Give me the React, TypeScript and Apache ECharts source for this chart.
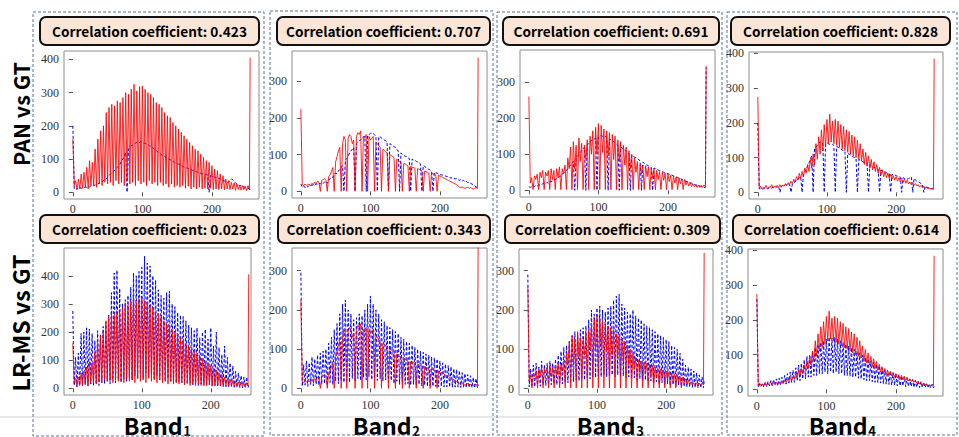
import React, { useEffect, useRef } from "react";
import * as echarts from "echarts";

// ---------- data ----------
const bandNames = ["1", "2", "3", "4"];
const corrPAN = [0.423, 0.707, 0.691, 0.828];
const corrLRMS = [0.023, 0.343, 0.309, 0.614];
const rowLabels = ["PAN vs GT", "LR-MS vs GT"];
const xTicks = [0, 100, 200];
const yTicksTop = [[0, 100, 200, 300, 400], [0, 100, 200, 300], [0, 100, 200, 300], [0, 100, 200, 300, 400]];
const yTicksBottom = [[0, 100, 200, 300, 400], [0, 100, 200, 300], [0, 100, 200, 300], [0, 100, 200, 300, 400]];

// histogram counts read at grey levels 0,2,4,...,254; last entry is level 255
const gtBand1 = [
  160, 20, 35, 8, 40, 10, 55, 12, 60, 15, 75, 10, 95, 18, 90, 20,
  130, 15, 160, 25, 185, 20, 200, 30, 240, 25, 255, 30, 265, 20, 260, 35,
  275, 25, 270, 30, 285, 20, 300, 35, 295, 25, 310, 30, 325, 20, 305, 35,
  318, 25, 320, 30, 310, 20, 300, 35, 295, 25, 285, 30, 270, 20, 265, 30,
  255, 20, 240, 25, 230, 15, 225, 25, 210, 15, 200, 20, 190, 15, 180, 20,
  170, 12, 160, 18, 150, 10, 140, 15, 130, 10, 125, 15, 115, 10, 105, 12,
  95, 10, 90, 12, 80, 8, 70, 10, 65, 8, 55, 10, 50, 8, 40, 10,
  35, 8, 30, 10, 28, 6, 25, 8, 22, 6, 20, 8, 18, 5, 20, 8,
  405,
];
const panBand1 = [
  200, 10, 8, 12, 10, 14, 12, 15, 14, 16, 15, 18, 16, 20, 18, 20,
  22, 24, 25, 28, 30, 32, 35, 38, 40, 45, 50, 55, 58, 62, 66, 70,
  75, 80, 85, 95, 100, 110, 120, 0, 130, 135, 140, 142, 145, 148, 150, 148,
  150, 152, 150, 148, 147, 145, 144, 140, 138, 135, 132, 128, 125, 122, 118, 115,
  112, 110, 108, 105, 102, 100, 98, 95, 93, 90, 88, 86, 85, 83, 80, 78,
  76, 75, 73, 72, 70, 68, 66, 65, 63, 62, 60, 58, 57, 56, 55, 54,
  53, 52, 0, 50, 48, 47, 46, 45, 44, 42, 40, 38, 36, 34, 32, 30,
  30, 35, 40, 38, 32, 28, 25, 22, 20, 20, 18, 16, 15, 14, 12, 10,
  5,
];
const lrmsBand1 = [
  275, 10, 110, 5, 125, 10, 195, 8, 200, 12, 215, 8, 210, 15, 195, 10,
  170, 15, 205, 10, 190, 20, 220, 15, 235, 25, 260, 15, 340, 30, 410, 20,
  420, 30, 355, 20, 300, 35, 315, 25, 330, 40, 360, 30, 410, 45, 400, 35,
  415, 50, 430, 35, 470, 55, 445, 40, 435, 50, 400, 35, 385, 45, 350, 30,
  330, 40, 320, 25, 340, 35, 345, 25, 300, 30, 290, 20, 270, 25, 260, 20,
  255, 20, 240, 15, 225, 20, 215, 12, 205, 18, 215, 10, 180, 15, 200, 10,
  210, 10, 175, 12, 215, 8, 150, 10, 200, 8, 145, 8, 120, 6, 150, 6,
  110, 5, 90, 4, 80, 4, 60, 3, 55, 3, 45, 2, 40, 2, 40, 2,
  10,
];

const gtBand2 = [
  225, 18, 15, 20, 16, 18, 20, 15, 22, 18, 25, 20, 28, 25, 0, 30,
  32, 35, 30, 0, 40, 45, 55, 65, 0, 80, 95, 110, 120, 0, 130, 150,
  140, 0, 145, 155, 150, 130, 140, 0, 150, 160, 155, 165, 0, 150, 145, 155,
  0, 150, 140, 145, 150, 0, 135, 130, 125, 120, 0, 115, 112, 108, 105, 0,
  100, 98, 95, 92, 0, 88, 85, 82, 80, 0, 76, 75, 72, 70, 0, 68,
  66, 65, 64, 0, 62, 60, 58, 56, 0, 55, 54, 52, 50, 0, 50, 48,
  46, 45, 0, 44, 42, 40, 38, 36, 34, 32, 30, 28, 26, 24, 22, 20,
  18, 15, 12, 10, 12, 10, 8, 10, 12, 8, 10, 8, 6, 8, 10, 8,
  365,
];
const panBand2 = [
  20, 12, 15, 10, 14, 12, 16, 14, 18, 15, 16, 20, 18, 22, 20, 24,
  22, 25, 28, 22, 30, 35, 40, 38, 45, 50, 48, 55, 60, 65, 70, 0,
  85, 90, 95, 105, 110, 115, 120, 0, 130, 135, 138, 140, 145, 148, 150, 0,
  152, 155, 158, 160, 158, 155, 150, 0, 148, 150, 145, 142, 140, 138, 135, 0,
  130, 128, 125, 122, 120, 115, 110, 0, 105, 100, 98, 96, 95, 92, 90, 0,
  88, 85, 85, 82, 80, 78, 75, 0, 70, 68, 65, 62, 60, 58, 55, 0,
  52, 50, 50, 48, 46, 45, 44, 42, 42, 40, 40, 38, 36, 38, 35, 34,
  35, 32, 30, 32, 28, 30, 26, 28, 24, 25, 22, 20, 18, 15, 12, 10,
  8,
];
const lrmsBand2 = [
  295, 5, 60, 8, 70, 5, 65, 10, 80, 6, 75, 10, 85, 8, 90, 10,
  95, 12, 100, 8, 115, 15, 130, 10, 150, 18, 165, 12, 190, 20, 215, 15,
  225, 20, 200, 15, 190, 25, 175, 18, 180, 25, 190, 20, 185, 28, 200, 22,
  215, 30, 235, 22, 215, 28, 200, 20, 190, 25, 175, 18, 170, 22, 160, 15,
  155, 20, 150, 12, 145, 18, 140, 10, 130, 15, 125, 10, 120, 12, 115, 8,
  110, 10, 105, 8, 100, 10, 95, 6, 92, 8, 88, 5, 85, 6, 80, 5,
  78, 5, 75, 4, 70, 5, 65, 4, 62, 4, 58, 3, 55, 3, 50, 3,
  48, 3, 45, 2, 40, 3, 38, 2, 35, 2, 32, 2, 28, 1, 25, 1,
  10,
];

const gtBand3 = [
  260, 20, 35, 2, 40, 30, 45, 2, 50, 35, 55, 2, 50, 40, 55, 2,
  60, 30, 55, 2, 60, 35, 65, 2, 60, 45, 70, 2, 90, 60, 120, 2,
  135, 60, 125, 2, 145, 80, 130, 2, 125, 85, 140, 2, 150, 100, 165, 2,
  175, 100, 185, 2, 180, 105, 170, 2, 165, 95, 160, 2, 155, 85, 150, 2,
  140, 80, 135, 2, 125, 70, 120, 2, 110, 60, 100, 2, 90, 50, 80, 2,
  72, 45, 70, 2, 68, 38, 65, 2, 62, 35, 60, 2, 55, 30, 52, 2,
  50, 28, 48, 2, 45, 24, 42, 2, 40, 20, 38, 2, 35, 18, 32, 2,
  30, 15, 25, 12, 22, 10, 18, 10, 15, 8, 15, 8, 14, 8, 15, 10,
  345,
];
const panBand3 = [
  10, 8, 10, 12, 10, 14, 12, 15, 14, 16, 18, 20, 18, 22, 20, 25,
  24, 26, 28, 30, 32, 35, 38, 40, 45, 48, 52, 55, 60, 65, 70, 75,
  80, 0, 90, 95, 100, 105, 110, 115, 120, 0, 125, 130, 135, 138, 140, 142,
  145, 0, 148, 150, 152, 150, 148, 150, 145, 0, 142, 140, 138, 135, 130, 128,
  125, 0, 120, 118, 115, 112, 108, 105, 100, 0, 98, 95, 92, 90, 88, 85,
  82, 0, 78, 75, 72, 70, 68, 66, 64, 0, 62, 60, 58, 56, 55, 54,
  52, 50, 48, 47, 46, 45, 44, 42, 40, 38, 36, 35, 34, 32, 30, 28,
  26, 25, 24, 22, 20, 20, 18, 16, 15, 14, 12, 12, 10, 10, 8, 8,
  340,
];
const lrmsBand3 = [
  290, 5, 50, 8, 60, 5, 65, 10, 55, 6, 70, 10, 60, 8, 65, 10,
  70, 10, 65, 12, 75, 10, 85, 15, 95, 12, 105, 18, 110, 15, 120, 20,
  135, 18, 145, 22, 140, 20, 150, 25, 155, 22, 160, 28, 175, 25, 200, 30,
  190, 28, 205, 32, 210, 30, 200, 35, 195, 30, 205, 32, 210, 35, 225, 30,
  235, 35, 240, 30, 215, 32, 205, 28, 195, 30, 190, 25, 200, 28, 185, 22,
  180, 25, 175, 20, 165, 22, 160, 18, 155, 20, 150, 15, 145, 18, 140, 12,
  135, 15, 130, 10, 125, 12, 120, 8, 110, 10, 105, 6, 100, 8, 90, 5,
  75, 5, 60, 4, 55, 4, 50, 3, 45, 3, 40, 2, 35, 2, 30, 2,
  20,
];

const gtBand4 = [
  275, 12, 18, 10, 15, 12, 20, 10, 16, 14, 22, 12, 18, 15, 20, 14,
  22, 15, 20, 18, 25, 20, 28, 22, 32, 25, 38, 30, 45, 35, 55, 40,
  60, 45, 70, 55, 80, 60, 95, 70, 110, 80, 140, 95, 160, 110, 180, 120,
  195, 130, 210, 140, 225, 145, 205, 140, 210, 135, 205, 130, 195, 125, 190, 120,
  180, 115, 175, 110, 165, 105, 160, 100, 150, 95, 140, 90, 125, 80, 115, 75,
  105, 70, 95, 65, 88, 60, 80, 55, 72, 50, 65, 45, 60, 42, 55, 40,
  52, 38, 48, 35, 45, 32, 42, 30, 40, 28, 38, 26, 35, 24, 30, 22,
  28, 20, 25, 18, 22, 15, 20, 14, 18, 12, 15, 10, 12, 10, 12, 10,
  385,
];
const panBand4 = [
  200, 10, 12, 8, 10, 12, 14, 10, 12, 14, 12, 15, 14, 16, 15, 18,
  0, 18, 20, 18, 22, 20, 24, 22, 0, 25, 28, 30, 35, 38, 42, 45,
  0, 55, 60, 65, 75, 85, 95, 105, 0, 125, 130, 135, 140, 145, 145, 142,
  0, 140, 142, 140, 138, 140, 138, 135, 0, 132, 130, 128, 125, 122, 120, 118,
  0, 112, 110, 108, 105, 102, 100, 98, 0, 95, 92, 90, 88, 86, 84, 82,
  0, 78, 76, 74, 72, 70, 68, 66, 0, 64, 62, 60, 58, 56, 55, 54,
  0, 52, 50, 50, 48, 46, 45, 44, 0, 42, 40, 40, 38, 40, 42, 44,
  0, 40, 35, 32, 30, 28, 25, 22, 0, 18, 15, 14, 12, 10, 10, 8,
  5,
];
const lrmsBand4 = [
  260, 5, 15, 8, 18, 6, 20, 8, 22, 10, 25, 10, 28, 12, 30, 10,
  32, 12, 35, 15, 40, 15, 45, 18, 50, 20, 55, 20, 62, 25, 70, 25,
  75, 30, 85, 30, 95, 35, 100, 35, 110, 40, 120, 40, 130, 45, 135, 45,
  140, 50, 145, 45, 150, 50, 148, 45, 150, 50, 145, 45, 140, 45, 135, 40,
  130, 40, 125, 38, 120, 35, 115, 35, 110, 32, 105, 30, 98, 28, 92, 25,
  88, 25, 82, 22, 78, 20, 72, 20, 68, 18, 62, 16, 58, 15, 55, 14,
  52, 12, 48, 12, 45, 10, 42, 10, 38, 10, 35, 8, 32, 8, 30, 8,
  28, 6, 26, 6, 24, 5, 22, 5, 20, 5, 18, 4, 16, 4, 15, 4,
  10,
];

// ---------- layout ----------
const SANS_NAME = "Noto Sans CJK KR";
const SANS = "'Noto Sans CJK KR', 'Noto Sans', sans-serif";
const SERIF = "'Liberation Serif', 'DejaVu Serif', serif";

const grids = [
  { left: 64, top: 51, width: 195, height: 148 },
  { left: 292, top: 51, width: 195, height: 147 },
  { left: 520, top: 50, width: 195, height: 147 },
  { left: 749, top: 52, width: 194, height: 147 },
  { left: 64, top: 248, width: 187, height: 147 },
  { left: 292, top: 248, width: 195, height: 147 },
  { left: 519, top: 249, width: 194, height: 146 },
  { left: 748, top: 249, width: 195, height: 147 },
];
const xRanges = [
  [-12.75, 267.75], [-12.75, 267.75], [-12.75, 267.75], [-12.75, 267.75],
  [-12.75, 258.3], [-12.75, 267.75], [-12.75, 267.75], [-12.75, 267.75],
];
const yRanges = [
  [-20.25, 425.25], [-18.25, 383.25], [-18.5, 389], [-19.25, 404.25],
  [-23.75, 498.75], [-17, 358], [-16, 355], [-19.25, 404.25],
];
const columns = [
  { x: 33, y: 12, w: 231, h: 424 },
  { x: 270, y: 11, w: 223, h: 424 },
  { x: 497, y: 12, w: 225, h: 423 },
  { x: 727, y: 12, w: 230, h: 423 },
];
const boxesTop = [
  { x: 40, w: 219 }, { x: 277, w: 213 }, { x: 503, w: 216 }, { x: 731, w: 219 },
];
const boxesBottom = [
  { x: 40, w: 219 }, { x: 278, w: 212 }, { x: 505, w: 215 }, { x: 733, w: 217 },
];
const bandCenters = [157, 386, 610, 842];

const toPoints = (arr: number[]) => arr.map((v, i) => [Math.min(i * 2, 255), v]);

function measure(text: string, size: number) {
  const ctx = document.createElement("canvas").getContext("2d");
  if (!ctx) return text.length * size * 0.55;
  ctx.font = `bold ${size}px '${SANS_NAME}'`;
  return ctx.measureText(text).width;
}
function fitSize(text: string, target: number, base: number) {
  const w = measure(text, base);
  if (!w) return base;
  return Math.min(base * 1.2, (base * target) / w);
}

export default function App() {
  const ref = useRef<HTMLDivElement>(null);

  useEffect(() => {
    if (!ref.current) return;
    const chart = echarts.init(ref.current, undefined, { renderer: "svg" });

    const gt = [gtBand1, gtBand2, gtBand3, gtBand4];
    const pan = [panBand1, panBand2, panBand3, panBand4];
    const lrms = [lrmsBand1, lrmsBand2, lrmsBand3, lrmsBand4];

    const xAxis: any[] = [];
    const yAxis: any[] = [];
    const series: any[] = [];
    const grid: any[] = [];

    for (let p = 0; p < 8; p++) {
      const row = p < 4 ? 0 : 1;
      const b = p % 4;
      grid.push({
        ...grids[p],
        show: true,
        borderColor: "#8c8c8c",
        borderWidth: 1,
        backgroundColor: "#fff",
        containLabel: false,
      });
      xAxis.push({
        type: "value",
        gridIndex: p,
        min: xRanges[p][0],
        max: xRanges[p][1],
        axisLine: { show: false },
        splitLine: { show: false },
        axisTick: { show: true, length: 4, customValues: xTicks, lineStyle: { color: "#555" } },
        axisLabel: {
          customValues: xTicks,
          fontFamily: SERIF,
          fontSize: 12,
          lineHeight: 12,
          color: "#333",
          margin: 4,
        },
      });
      const yt = row === 0 ? yTicksTop[b] : yTicksBottom[b];
      yAxis.push({
        type: "value",
        gridIndex: p,
        min: yRanges[p][0],
        max: yRanges[p][1],
        axisLine: { show: false },
        splitLine: { show: false },
        axisTick: { show: true, length: 4, customValues: yt, lineStyle: { color: "#555" } },
        axisLabel: {
          customValues: yt,
          fontFamily: SERIF,
          fontSize: 12,
          color: "#333",
          margin: 5,
        },
      });
      const blue = row === 0 ? pan[b] : lrms[b];
      series.push({
        type: "line",
        xAxisIndex: p,
        yAxisIndex: p,
        data: toPoints(blue),
        symbol: "none",
        silent: true,
        clip: true,
        z: 2,
        lineStyle: { color: "#0000ff", width: 1, type: [3, 2] },
      });
      series.push({
        type: "line",
        xAxisIndex: p,
        yAxisIndex: p,
        data: toPoints(gt[b]),
        symbol: "none",
        silent: true,
        clip: true,
        z: 3,
        lineStyle: { color: "#ff0000", width: 1, opacity: 0.85 },
      });
    }

    const graphic: any[] = [];
    graphic.push({
      type: "line",
      shape: { x1: 0, y1: 417, x2: 959, y2: 417 },
      style: { stroke: "#d0d0d0", lineWidth: 1 },
      z: 1,
    });
    const corrSize = fitSize("Correlation coefficient: 0.423", 195, 15);
    const addBox = (bx: { x: number; w: number }, y: number, val: number) => {
      graphic.push({
        type: "rect",
        shape: { x: bx.x, y, width: bx.w, height: 28, r: 6 },
        style: { fill: "#fbe5d6", stroke: "#111", lineWidth: 2 },
        z: 5,
      });
      graphic.push({
        type: "text",
        x: bx.x + bx.w / 2,
        y: y + 14,
        style: {
          text: "Correlation coefficient: " + val.toFixed(3),
          fontFamily: SANS,
          fontWeight: "bold",
          fontSize: corrSize,
          fill: "#000",
          textAlign: "center",
          textVerticalAlign: "middle",
        },
        z: 6,
      });
    };
    for (let b = 0; b < 4; b++) {
      addBox(boxesTop[b], 17, corrPAN[b]);
      addBox(boxesBottom[b], 215, corrLRMS[b]);
    }
    const rowY = [114, 323];
    const rowW = [104, 137];
    rowLabels.forEach((t, i) => {
      graphic.push({
        type: "text",
        x: 20,
        y: rowY[i],
        rotation: Math.PI / 2,
        style: {
          text: t,
          fontFamily: SANS,
          fontWeight: "bold",
          fontSize: fitSize(t, rowW[i], 23),
          fill: "#000",
          textAlign: "center",
          textVerticalAlign: "middle",
        },
        z: 6,
      });
    });
    const bandSize = fitSize("Band", 59, 22);
    const subSize = 13;
    bandNames.forEach((n, i) => {
      const w1 = measure("Band", bandSize);
      const w2 = measure(n, subSize);
      const x0 = bandCenters[i] - (w1 + w2) / 2;
      graphic.push({
        type: "text",
        x: x0,
        y: 425,
        style: {
          text: "Band",
          fontFamily: SANS,
          fontWeight: "bold",
          fontSize: bandSize,
          lineHeight: 20,
          fill: "#000",
          textAlign: "left",
          textVerticalAlign: "middle",
        },
        z: 6,
      });
      graphic.push({
        type: "text",
        x: x0 + w1 + 0.5,
        y: 430,
        style: {
          text: n,
          fontFamily: SANS,
          fontWeight: "bold",
          fontSize: subSize,
          lineHeight: 12,
          fill: "#000",
          textAlign: "left",
          textVerticalAlign: "middle",
        },
        z: 6,
      });
    });
    columns.forEach((c) => {
      graphic.push({
        type: "rect",
        shape: { x: c.x, y: c.y, width: c.w, height: c.h },
        style: { fill: "none", stroke: "#5470a8", lineWidth: 1, lineDash: [3, 2] },
        z: 50,
        silent: true,
      });
    });

    chart.setOption({
      animation: false,
      backgroundColor: "#fff",
      grid,
      xAxis,
      yAxis,
      series,
      graphic,
    });

    return () => chart.dispose();
  }, []);

  return (
    <div
      ref={ref}
      style={{ position: "absolute", left: 0, top: 0, width: 959, height: 437 }}
    />
  );
}
